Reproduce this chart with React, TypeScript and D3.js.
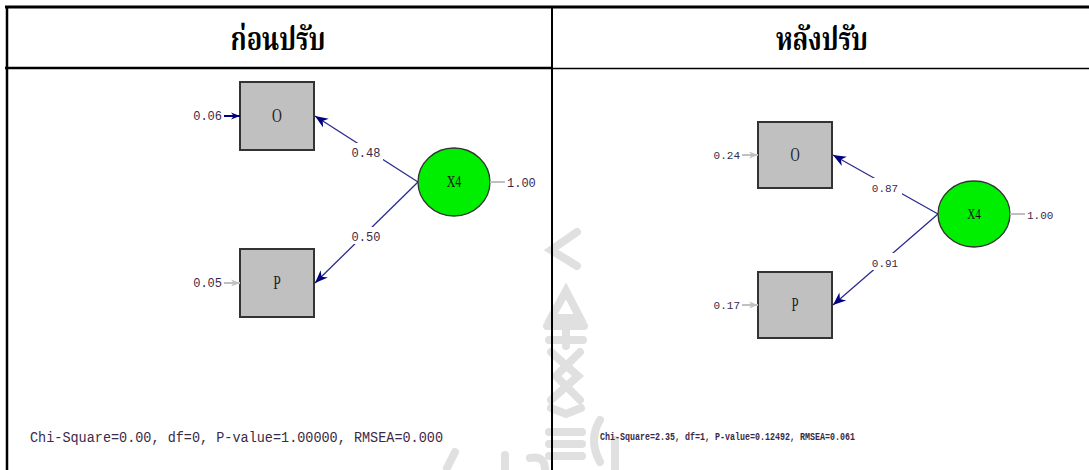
import React, { useRef, useEffect } from 'react'
import * as d3 from 'd3'

// table headers
const panelTitles = ['ก่อนปรับ', 'หลังปรับ']

// observed indicators and latent factor
const indicators = ['O', 'P']
const latentName = 'X4'

// estimates per model
const loadingsBefore = [0.48, 0.5]
const errorsBefore = [0.06, 0.05]
const loadingsAfter = [0.87, 0.91]
const errorsAfter = [0.24, 0.17]
const latentVariance = [1.0, 1.0]

// goodness-of-fit lines
const fitBefore = 'Chi-Square=0.00, df=0, P-value=1.00000, RMSEA=0.000'
const fitAfter = 'Chi-Square=2.35, df=1, P-value=0.12492, RMSEA=0.061'

const W = 1089
const H = 470

export default function App() {
  const svgRef = useRef<SVGSVGElement>(null)

  useEffect(() => {
    if (!svgRef.current) return
    d3.select(svgRef.current).selectAll('*').remove()

    const svg = d3.select(svgRef.current)
      .attr('viewBox', [0, 0, W, H])

    svg.append('rect').attr('width', W).attr('height', H).attr('fill', 'white')

    const defs = svg.append('defs')
    const marker = (id: string, color: string, size: number) => {
      defs.append('marker')
        .attr('id', id)
        .attr('viewBox', '0 0 10 10')
        .attr('refX', 10)
        .attr('refY', 5)
        .attr('markerUnits', 'userSpaceOnUse')
        .attr('markerWidth', size)
        .attr('markerHeight', size)
        .attr('orient', 'auto')
        .append('path')
        .attr('d', 'M0,1 L10,5 L0,9 L3,5 Z')
        .attr('fill', color)
    }
    marker('navy', '#000080', 13)
    marker('navySmall', '#000080', 9)
    marker('gray', '#c0c0c0', 9)

    // faint watermark behind everything
    const wm = svg.append('g')
      .attr('fill', 'none')
      .attr('stroke', '#e0e0e0')
      .attr('stroke-width', 8)
      .attr('stroke-linecap', 'round')
    const wmPaths = [
      'M577,232 L551,250 L577,266',
      'M551,318 L566,291 L580,318 Z',
      'M547,326 L584,326',
      'M566,330 L566,346 M549,340 L583,340',
      'M551,352 L578,376 L551,400 M580,352 L556,376 L580,400',
      'M551,408 L566,414 L581,408',
      'M549,432 L582,432 M549,444 L582,444 M549,456 L582,456',
      'M600,420 Q588,440 600,462',
      'M615,440 L615,470',
      'M447,468 L455,452',
      'M505,455 L505,470 M530,458 Q545,455 545,470',
    ]
    wmPaths.forEach(d => wm.append('path').attr('d', d))

    // table grid
    const colX = [7, 552, W]
    const headerTop = 7
    const headerBottom = 68
    svg.append('line').attr('x1', 5).attr('x2', W).attr('y1', headerTop).attr('y2', headerTop)
      .attr('stroke', 'black').attr('stroke-width', 3)
    svg.append('line').attr('x1', 5).attr('x2', 552).attr('y1', headerBottom).attr('y2', headerBottom)
      .attr('stroke', 'black').attr('stroke-width', 2.5)
    svg.append('line').attr('x1', 552).attr('x2', W).attr('y1', headerBottom + 0.5).attr('y2', headerBottom + 0.5)
      .attr('stroke', 'black').attr('stroke-width', 1.5)
    svg.append('line').attr('x1', colX[0]).attr('x2', colX[0]).attr('y1', headerTop).attr('y2', H)
      .attr('stroke', 'black').attr('stroke-width', 2.5)
    svg.append('line').attr('x1', colX[1]).attr('x2', colX[1]).attr('y1', headerTop).attr('y2', H)
      .attr('stroke', 'black').attr('stroke-width', 2)

    panelTitles.forEach((t, i) => {
      svg.append('text')
        .attr('transform', `translate(${i === 0 ? 278 : 822},50) scale(0.88,1.12)`)
        .attr('text-anchor', 'middle')
        .attr('font-family', '"Angsana New", "Noto Serif Thai", "Noto Sans Thai", "Loma", "Garuda", serif')
        .attr('font-size', 29)
        .attr('font-weight', 'bold')
        .attr('fill', 'black')
        .text(t)
    })

    // one path diagram per panel
    const panels = [
      {
        loadings: loadingsBefore, errors: errorsBefore, variance: latentVariance[0], fit: fitBefore,
        boxX: 240, boxW: 74, boxH: 68, yRange: [116, 283], cx: 454, cy: 182, rx: 36, ry: 34,
        fontSize: 12, labelX: 366, labelY: [152, 236], highlightFirst: true,
        fitX: 30, fitY: 442, fitLen: 413, fitSize: 14, fitWeight: 'normal',
      },
      {
        loadings: loadingsAfter, errors: errorsAfter, variance: latentVariance[1], fit: fitAfter,
        boxX: 758, boxW: 74, boxH: 66, yRange: [155, 305], cx: 974, cy: 214, rx: 36, ry: 33,
        fontSize: 11, labelX: 885, labelY: [187, 262], highlightFirst: false,
        fitX: 600, fitY: 440, fitLen: 255, fitSize: 10, fitWeight: 'bold',
      },
    ]

    const mono = '"Liberation Mono", "DejaVu Sans Mono", monospace'
    const serifMono = '"Liberation Serif", "DejaVu Serif", serif'
    const textColor = '#3a2a4a'

    panels.forEach(p => {
      const g = svg.append('g')
      const y = d3.scalePoint<string>().domain(indicators).range(p.yRange as [number, number])
      const fmt = d3.format('.2f')

      // loading paths
      indicators.forEach((ind, i) => {
        const yc = y(ind) as number
        g.append('line')
          .attr('x1', p.cx - p.rx).attr('y1', p.cy)
          .attr('x2', p.boxX + p.boxW + 1).attr('y2', yc)
          .attr('stroke', '#2a2a90')
          .attr('stroke-width', 1.3)
          .attr('marker-end', 'url(#navy)')
        const lbl = fmt(p.loadings[i])
        g.append('rect')
          .attr('x', p.labelX - 17).attr('y', p.labelY[i] - 9)
          .attr('width', 34).attr('height', 17)
          .attr('fill', 'white')
        g.append('text')
          .attr('x', p.labelX).attr('y', p.labelY[i] + 5)
          .attr('text-anchor', 'middle')
          .attr('font-family', mono)
          .attr('font-size', p.fontSize)
          .attr('fill', textColor)
          .text(lbl)
      })

      // indicator boxes and error terms
      indicators.forEach((ind, i) => {
        const yc = y(ind) as number
        g.append('rect')
          .attr('x', p.boxX).attr('y', yc - p.boxH / 2)
          .attr('width', p.boxW).attr('height', p.boxH)
          .attr('fill', '#c0c0c0')
          .attr('stroke', '#333')
          .attr('stroke-width', 2)
        g.append('text')
          .attr('transform', `translate(${p.boxX + p.boxW / 2},${yc + 6}) scale(0.85,1.2)`)
          .attr('text-anchor', 'middle')
          .attr('font-family', serifMono)
          .attr('font-size', p.fontSize + 4)
          .attr('fill', '#222')
          .text(ind)
        const hi = p.highlightFirst && i === 0
        g.append('line')
          .attr('x1', p.boxX - 16).attr('y1', yc)
          .attr('x2', p.boxX).attr('y2', yc)
          .attr('stroke', hi ? '#000080' : '#c0c0c0')
          .attr('stroke-width', 2)
          .attr('marker-end', hi ? 'url(#navySmall)' : 'url(#gray)')
        g.append('text')
          .attr('x', p.boxX - 18).attr('y', yc + 4)
          .attr('text-anchor', 'end')
          .attr('font-family', mono)
          .attr('font-size', p.fontSize)
          .attr('fill', textColor)
          .text(fmt(p.errors[i]))
      })

      // latent factor
      g.append('ellipse')
        .attr('cx', p.cx).attr('cy', p.cy)
        .attr('rx', p.rx).attr('ry', p.ry)
        .attr('fill', '#00ee00')
        .attr('stroke', '#333')
        .attr('stroke-width', 1.3)
      g.append('text')
        .attr('transform', `translate(${p.cx},${p.cy + 5}) scale(0.85,1.2)`)
        .attr('text-anchor', 'middle')
        .attr('font-family', serifMono)
        .attr('font-size', p.fontSize + 2)
        .attr('fill', '#111')
        .text(latentName)
      g.append('line')
        .attr('x1', p.cx + p.rx).attr('y1', p.cy)
        .attr('x2', p.cx + p.rx + 15).attr('y2', p.cy)
        .attr('stroke', '#c0c0c0')
        .attr('stroke-width', 2)
      g.append('text')
        .attr('x', p.cx + p.rx + 17).attr('y', p.cy + 5)
        .attr('font-family', mono)
        .attr('font-size', p.fontSize)
        .attr('fill', textColor)
        .text(fmt(p.variance))

      // fit statistics
      g.append('text')
        .attr('x', p.fitX).attr('y', p.fitY)
        .attr('font-family', mono)
        .attr('font-size', p.fitSize)
        .attr('font-weight', p.fitWeight)
        .attr('fill', textColor)
        .attr('textLength', p.fitLen)
        .attr('lengthAdjust', 'spacingAndGlyphs')
        .text(p.fit)
    })
  }, [])

  return (
    <div style={{ position: 'absolute', left: 0, top: 0 }}>
      <svg ref={svgRef} width={W} height={H} style={{ display: 'block' }} />
    </div>
  )
}
